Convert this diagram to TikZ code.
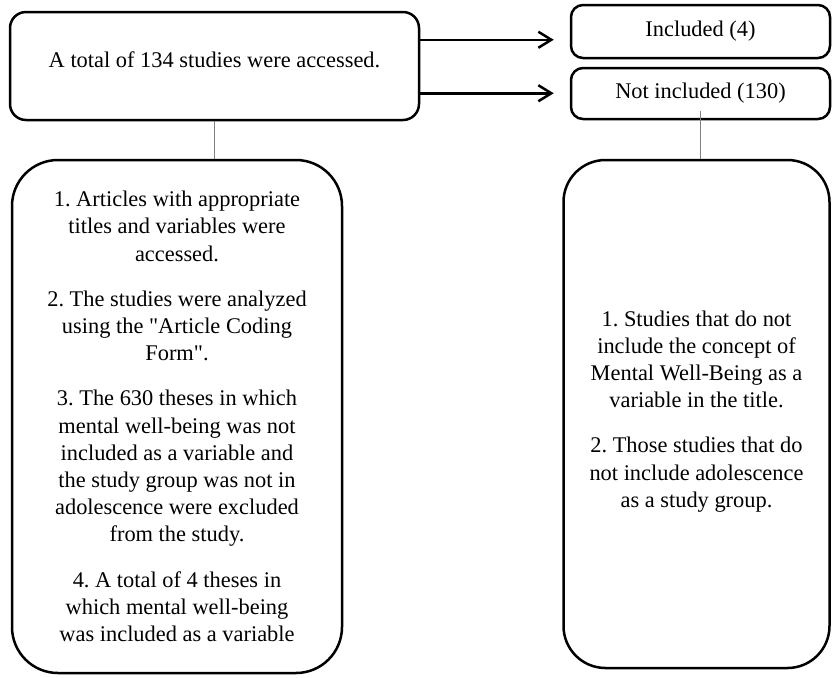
\documentclass[tikz,border=0pt]{standalone}
\usepackage{fontspec}
\setmainfont{Liberation Serif}
\usetikzlibrary{arrows.meta}
\frenchspacing
\begin{document}
\begin{tikzpicture}[x=0.5pt,y=-0.5pt,
  font=\fontsize{11.2}{13.6}\selectfont,
  box/.style={draw,line width=1.25pt,rounded corners=#1,align=center,inner sep=0pt},
  box/.default=6pt,
  arr/.style={line width=1.25pt,-{Straight Barb[length=6.5pt,width=8pt]},shorten >=8pt},
  link/.style={draw=gray,line width=0.6pt}]
\useasboundingbox (0,0) rectangle (832,677);
\node[box=8pt,minimum width=204.5pt,minimum height=54pt,text depth=6pt] (total) at (214.5,66) {A total of 134 studies were accessed.};
\node[box,minimum width=129.5pt,minimum height=26.5pt] (incl) at (700.5,31.5) {Included (4)};
\node[box,minimum width=129.5pt,minimum height=25.5pt] (notincl) at (700.5,93.5) {Not included (130)};
\node[box=23pt,minimum width=165pt,minimum height=256.5pt] (crit) at (177,416.5)
  {1. Articles with appropriate\\ titles and variables were\\ accessed.\\[9pt]
   2. The studies were analyzed\\ using the \textquotedbl Article Coding\\ Form\textquotedbl.\\[9pt]
   3. The 630 theses in which\\ mental well-being was not\\ included as a variable and\\
   the study group was not in\\ adolescence were excluded\\ from the study.\\[9pt]
   4. A total of 4 theses in\\ which mental well-being\\ was included as a variable};
\node[box=21pt,minimum width=133pt,minimum height=254pt] (excl) at (696.5,414)
  {1. Studies that do not\\ include the concept of\\ Mental Well-Being as a\\ variable in the title.\\[9pt]
   2. Those studies that do\\ not include adolescence\\ as a study group.\\[-8.6pt]};
\coordinate (a1) at ([yshift=-14.5pt]total.north east);
\coordinate (a2) at ([yshift=14pt]total.south east);
\draw[arr] (a1) -- (a1 -| incl.west);
\draw[arr] (a2) -- (a2 -| notincl.west);
\draw[link] (total.south) -- (total.south |- crit.north);
\draw[link] ([yshift=4.5pt]notincl.south) -- (notincl.south |- excl.north);
\end{tikzpicture}
\end{document}
